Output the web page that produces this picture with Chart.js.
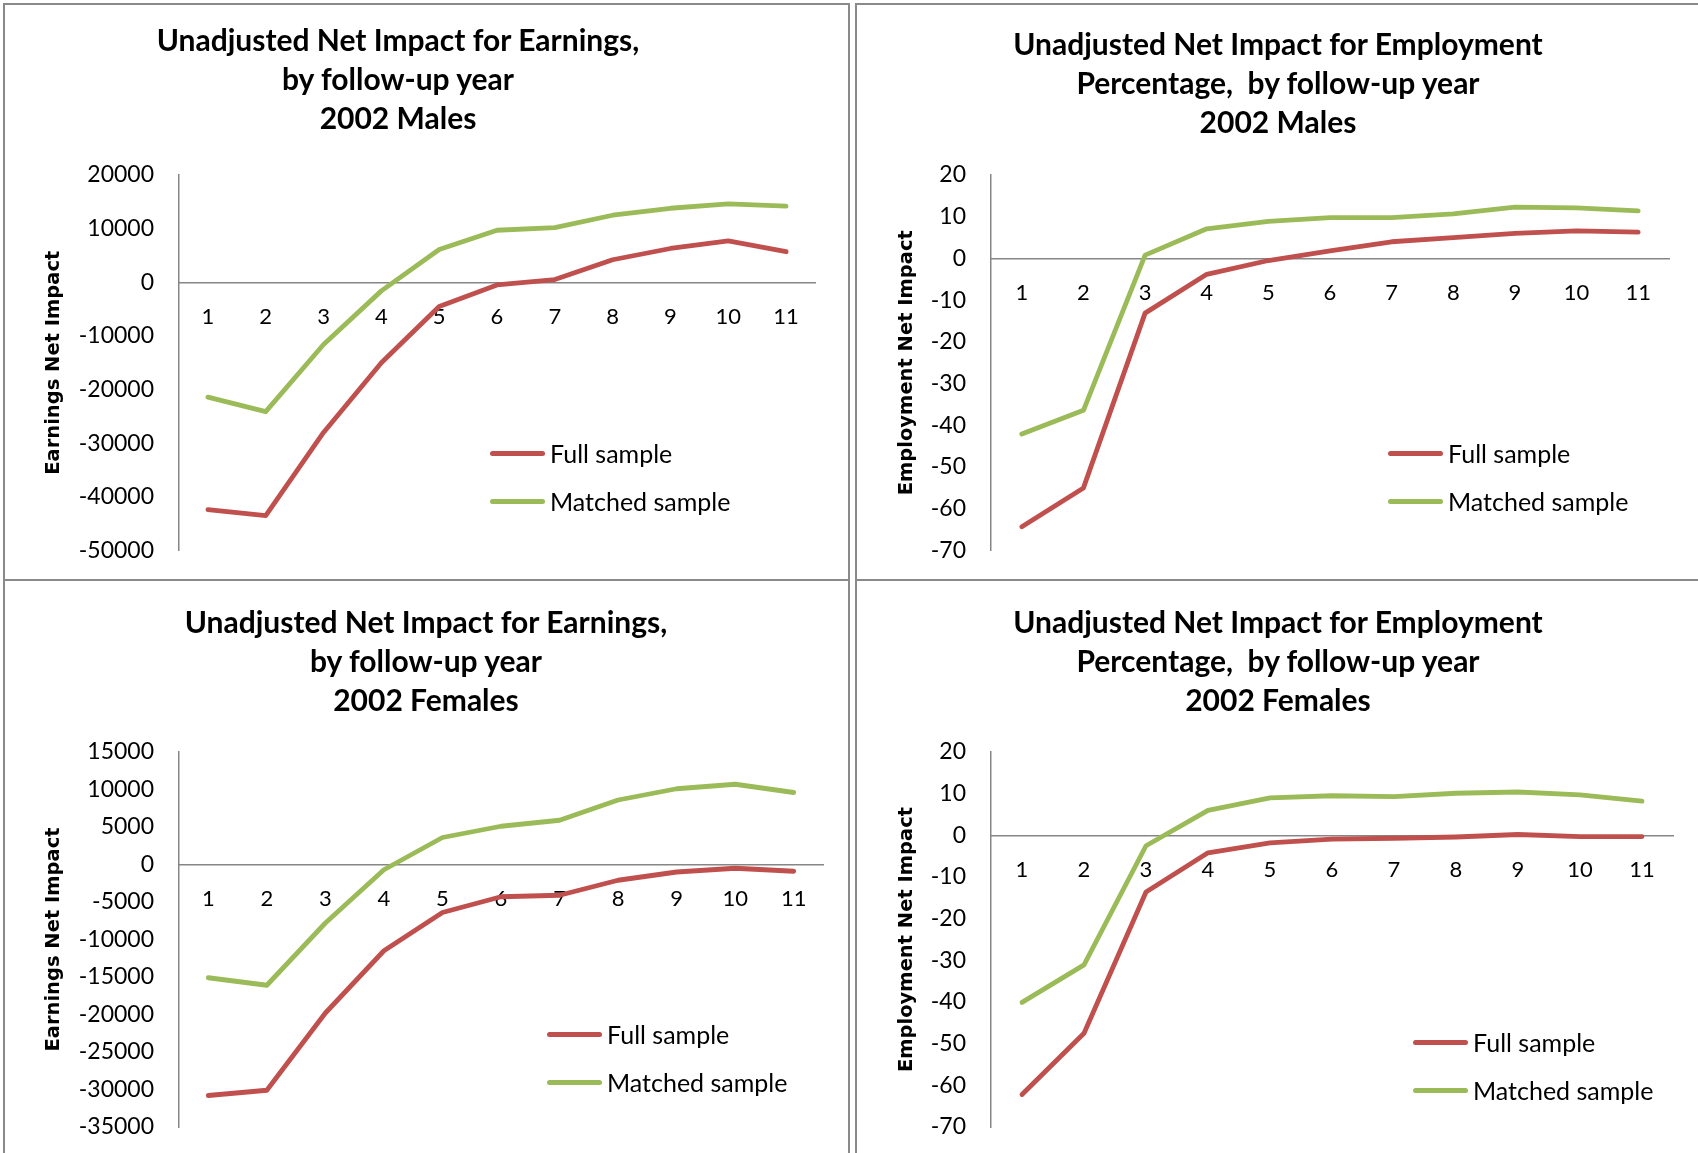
<!DOCTYPE html>
<html><head><meta charset="utf-8">
<script src="https://cdn.jsdelivr.net/npm/chart.js@4.4.1/dist/chart.umd.min.js"></script>
<style>
html,body{margin:0;padding:0;background:#fff;}
body{width:1698px;height:1153px;overflow:hidden;position:relative;font-family:Lato,'Open Sans',sans-serif;}
.panel{position:absolute;border:2px solid #8a8a8a;box-sizing:border-box;}
canvas{position:absolute;}
.title{position:absolute;text-align:center;font-weight:bold;font-size:30px;line-height:39px;color:#000;white-space:pre;transform:translateX(-50%);}
.item{position:absolute;white-space:nowrap;display:flex;align-items:center;height:30px;font-size:25px;color:#000;}
.swatch{display:inline-block;width:55px;height:5px;border-radius:3px;margin-right:5px;}
</style></head><body>
<div class="panel" style="left:3px;top:3px;width:847px;height:578px"></div>
<div class="panel" style="left:855px;top:3px;width:900px;height:578px"></div>
<div class="panel" style="left:3px;top:579px;width:847px;height:700px"></div>
<div class="panel" style="left:855px;top:579px;width:900px;height:700px"></div>
<canvas id="c1"></canvas><canvas id="c2"></canvas><canvas id="c3"></canvas><canvas id="c4"></canvas>
<div id="overlay"></div>
<script>
// ---- data ----
const years = ['1','2','3','4','5','6','7','8','9','10','11'];
const seriesNames = ['Full sample','Matched sample'];

const earnMaleFull    = [-42400,-43500,-28000,-15000,-4500,-500,500,4200,6300,7700,5700];
const earnMaleMatched = [-21400,-24100,-11600,-1600,6100,9700,10200,12500,13800,14600,14200];
const empMaleFull     = [-64.3,-55.0,-13.1,-3.8,-0.5,1.8,4.0,5.0,6.0,6.6,6.3];
const empMaleMatched  = [-42.1,-36.4,0.8,7.1,8.9,9.8,9.8,10.7,12.3,12.1,11.4];
const earnFemaleFull    = [-30800,-30100,-19800,-11500,-6400,-4300,-4100,-2100,-1000,-500,-900];
const earnFemaleMatched = [-15100,-16100,-7800,-700,3600,5100,5900,8600,10100,10700,9600];
const empFemaleFull     = [-62.2,-47.5,-13.6,-4.2,-1.8,-0.9,-0.7,-0.4,0.2,-0.3,-0.3];
const empFemaleMatched  = [-40.1,-31.1,-2.5,6.0,9.0,9.5,9.3,10.1,10.4,9.7,8.2];

const earnMaleTicks   = [20000,10000,0,-10000,-20000,-30000,-40000,-50000];
const earnFemaleTicks = [15000,10000,5000,0,-5000,-10000,-15000,-20000,-25000,-30000,-35000];
const empTicks        = [20,10,0,-10,-20,-30,-40,-50,-60,-70];

const titleEarnMale   = ['Unadjusted Net Impact for Earnings,','by follow-up year','2002 Males'];
const titleEmpMale    = ['Unadjusted Net Impact for Employment','Percentage,  by follow-up year','2002 Males'];
const titleEarnFemale = ['Unadjusted Net Impact for Earnings,','by follow-up year','2002 Females'];
const titleEmpFemale  = ['Unadjusted Net Impact for Employment','Percentage,  by follow-up year','2002 Females'];
const yTitleEarn = 'Earnings Net Impact';
const yTitleEmp  = 'Employment Net Impact';

// ---- styles ----
const RED = '#C0504D', GREEN = '#9BBB59', AXIS = '#868686';
Chart.defaults.font.family = 'Lato';
Chart.defaults.color = '#000';

function makeChart(id, cr, plot, full, matched, ticks, yTitle, yTitleX, title, titleX, titleY, leg) {
  const cv = document.getElementById(id);
  cv.width = cr.w; cv.height = cr.h;
  cv.style.left = cr.x + 'px'; cv.style.top = cr.y + 'px';
  const yWidth = plot.x0 - cr.x;
  const padTop = plot.y0 - cr.y;
  const padRight = cr.x + cr.w - plot.x1;
  const padBottom = cr.y + cr.h - plot.y1;
  const ytSize = 19.5;
  const yTitleFont = {family: 'DejaVu Sans', weight: 'bold', size: ytSize, lineHeight: 1.2};
  const titlePad = (yTitleX - cr.x) - ytSize * 1.2 / 2;
  const sorted = ticks.slice().sort((a, b) => a - b);
  const ds = (label, data, color) => ({label, data, borderColor: color, backgroundColor: color,
    borderWidth: 4.8, pointRadius: 0, tension: 0, borderJoinStyle: 'round', borderCapStyle: 'round', fill: false});
  new Chart(cv, {
    type: 'line',
    data: {labels: years, datasets: [ds(seriesNames[0], full, RED), ds(seriesNames[1], matched, GREEN)]},
    options: {
      responsive: false, animation: false, devicePixelRatio: 1,
      layout: {padding: {left: 0, top: padTop, right: padRight, bottom: padBottom}},
      plugins: {legend: {display: false}, tooltip: {enabled: false}, title: {display: false}},
      scales: {
        x: {type: 'category', offset: true, position: {y: 0},
            afterFit: s => { s.paddingLeft = 0; s.paddingRight = 0; },
            grid: {color: 'rgba(0,0,0,0)', drawTicks: false},
            border: {display: true, color: AXIS, width: 1.5},
            ticks: {padding: 21, color: '#000', font: {family: 'Lato', size: 22}, maxRotation: 0, autoSkip: false}},
        y: {type: 'linear', min: sorted[0], max: sorted[sorted.length - 1],
            afterBuildTicks: s => { s.ticks = sorted.map(v => ({value: v})); },
            afterFit: s => { s.width = yWidth; s.paddingTop = 0; s.paddingBottom = 0; },
            grid: {color: 'rgba(0,0,0,0)', drawTicks: false},
            border: {display: true, color: AXIS, width: 1.5},
            ticks: {padding: 25, color: '#000', font: {family: 'Lato', size: 23}, autoSkip: false, callback: v => String(v)},
            title: {display: true, text: yTitle, color: '#000', font: yTitleFont, padding: {top: titlePad, bottom: 0}}}
      }
    }
  });
  const ov = document.getElementById('overlay');
  const t = document.createElement('div');
  t.className = 'title';
  t.textContent = title.join('\n');
  t.style.left = titleX + 'px';
  t.style.top = (titleY - 19.5) + 'px';
  ov.appendChild(t);
  [[seriesNames[0], RED, leg.y0], [seriesNames[1], GREEN, leg.y1]].forEach(([name, color, y]) => {
    const it = document.createElement('div');
    it.className = 'item';
    it.style.left = leg.x + 'px';
    it.style.top = (y - 15) + 'px';
    const sw = document.createElement('span');
    sw.className = 'swatch'; sw.style.background = color;
    const tx = document.createElement('span');
    tx.textContent = name;
    it.appendChild(sw); it.appendChild(tx);
    ov.appendChild(it);
  });
}

makeChart('c1', {x: 5, y: 5, w: 843, h: 574}, {x0: 179, x1: 815, y0: 175, y1: 550.5},
  earnMaleFull, earnMaleMatched, earnMaleTicks, yTitleEarn, 54, titleEarnMale, 398, 39, {x: 490, y0: 453, y1: 501});
makeChart('c2', {x: 857, y: 5, w: 841, h: 574}, {x0: 991, x1: 1669, y0: 175, y1: 550.5},
  empMaleFull, empMaleMatched, empTicks, yTitleEmp, 907, titleEmpMale, 1278, 43, {x: 1388, y0: 453, y1: 501});
makeChart('c3', {x: 5, y: 581, w: 843, h: 572}, {x0: 179, x1: 823, y0: 752, y1: 1127},
  earnFemaleFull, earnFemaleMatched, earnFemaleTicks, yTitleEarn, 54, titleEarnFemale, 426, 621, {x: 547, y0: 1034, y1: 1082});
makeChart('c4', {x: 857, y: 581, w: 841, h: 572}, {x0: 991, x1: 1673, y0: 752, y1: 1127},
  empFemaleFull, empFemaleMatched, empTicks, yTitleEmp, 907, titleEmpFemale, 1278, 621, {x: 1413, y0: 1042, y1: 1090});
</script>
</body></html>
